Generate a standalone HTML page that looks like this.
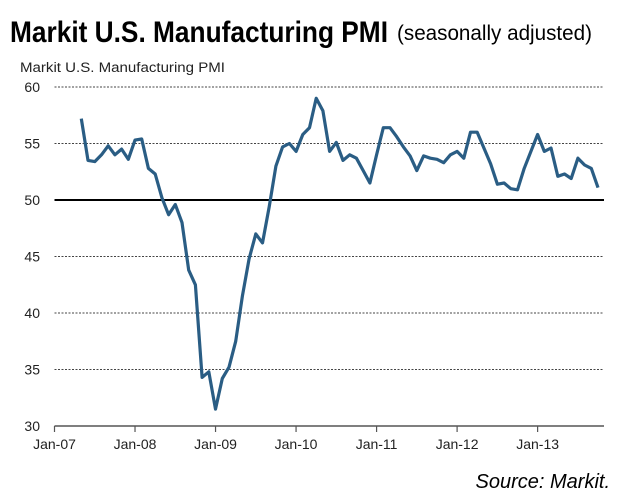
<!DOCTYPE html>
<html><head><meta charset="utf-8"><style>
body{margin:0;background:#fff;}
svg{display:block;font-family:"Liberation Sans",Arial,sans-serif;}
</style></head><body>
<svg width="640" height="496" viewBox="0 0 640 496">
<text x="10" y="42" font-size="30" font-weight="bold" textLength="378" lengthAdjust="spacingAndGlyphs">Markit U.S. Manufacturing PMI</text>
<text x="397" y="40" font-size="21" textLength="195" lengthAdjust="spacingAndGlyphs">(seasonally adjusted)</text>
<text x="20" y="72" font-size="13.5" fill="#222" textLength="205" lengthAdjust="spacingAndGlyphs">Markit U.S. Manufacturing  PMI</text>
<g id="grid"></g>
<g id="yticks"></g>
<g id="xaxis"></g>
<path id="line" fill="none" stroke="#2a5d84" stroke-width="3.2" stroke-linejoin="round"/>
<text x="610" y="488" font-size="20" font-style="italic" text-anchor="end">Source: Markit.</text>
</svg>
<script>
const yTicks=[30,35,40,45,50,55,60];
const xLabels=["Jan-07","Jan-08","Jan-09","Jan-10","Jan-11","Jan-12","Jan-13"];
const startMonth=4; // May-07, months since Jan-07
const pmi=[57.2,53.5,53.4,54.0,54.8,54.0,54.5,53.6,55.3,55.4,52.8,52.3,50.2,48.7,49.6,48.0,43.8,42.5,34.3,34.8,
31.5,34.2,35.2,37.5,41.5,44.8,47.0,46.2,49.4,53.0,54.7,55.0,54.3,55.8,56.4,59.0,57.9,54.3,55.1,53.5,54.0,53.7,52.6,51.5,
54.0,56.4,56.4,55.6,54.7,53.9,52.6,53.9,53.7,53.6,53.3,54.0,54.3,53.7,56.0,56.0,54.6,53.2,51.4,51.5,51.0,50.9,
52.8,54.3,55.8,54.3,54.6,52.1,52.3,51.9,53.7,53.1,52.8,51.1];
const NS="http://www.w3.org/2000/svg";
const x0=54.5,xEnd=604,monthW=6.71;
const xs=m=>x0+m*monthW;
const ys=v=>426-(v-30)*(339/30);
const grid=document.getElementById('grid'),yt=document.getElementById('yticks'),xa=document.getElementById('xaxis');
yTicks.forEach(v=>{
  const t=document.createElementNS(NS,'text');
  t.setAttribute('x',40);t.setAttribute('y',ys(v)+5);t.setAttribute('text-anchor','end');t.setAttribute('font-size','14');t.setAttribute('fill','#222');
  t.textContent=v;
  
  
  yt.appendChild(t);
  if(v===30)return;
  const l=document.createElementNS(NS,'line');
  l.setAttribute('x1',x0);l.setAttribute('x2',xEnd);l.setAttribute('y1',ys(v));l.setAttribute('y2',ys(v));
  if(v===50){l.setAttribute('stroke','#000');l.setAttribute('stroke-width','2');}
  else{l.setAttribute('stroke','#444');l.setAttribute('stroke-width','1');l.setAttribute('stroke-dasharray','2,1.5');}
  
  
  grid.appendChild(l);
});
const ax=document.createElementNS(NS,'line');
ax.setAttribute('x1',x0);ax.setAttribute('x2',xEnd);ax.setAttribute('y1',426);ax.setAttribute('y2',426);ax.setAttribute('stroke','#555');ax.setAttribute('stroke-width','1.5');


xa.appendChild(ax);
xLabels.forEach((s,i)=>{
  const x=xs(i*12);
  const tk=document.createElementNS(NS,'line');
  tk.setAttribute('x1',x);tk.setAttribute('x2',x);tk.setAttribute('y1',426);tk.setAttribute('y2',432);tk.setAttribute('stroke','#555');tk.setAttribute('stroke-width','1.2');
  
  
  xa.appendChild(tk);
  const t=document.createElementNS(NS,'text');
  t.setAttribute('x',x);t.setAttribute('y',449);t.setAttribute('text-anchor','middle');t.setAttribute('font-size','14');t.setAttribute('fill','#222');
  t.textContent=s;
  
  
  xa.appendChild(t);
});
document.getElementById('line').setAttribute('d',pmi.map((v,i)=>(i?'L':'M')+xs(startMonth+i).toFixed(1)+','+ys(v).toFixed(1)).join(''));
</script>
</body></html>
